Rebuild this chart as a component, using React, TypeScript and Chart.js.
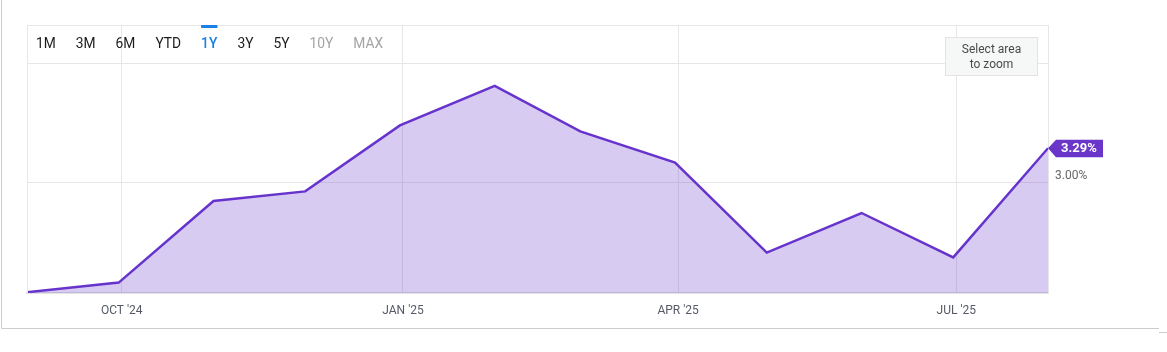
import { useEffect, useRef } from 'react';
import { Chart, registerables } from 'chart.js';

Chart.register(...registerables);

// ---- data ----
const dates = [
  '2024-08-31', '2024-09-30', '2024-10-31', '2024-11-30', '2024-12-31', '2025-01-31',
  '2025-02-28', '2025-03-31', '2025-04-30', '2025-05-31', '2025-06-30', '2025-07-31',
];
const values = [2.09, 2.17, 2.85, 2.93, 3.48, 3.81, 3.43, 3.17, 2.42, 2.75, 2.38, 3.29];
const tickDates = ['2024-10-01', '2025-01-01', '2025-04-01', '2025-07-01'];
const tickLabels = ["OCT '24", "JAN '25", "APR '25", "JUL '25"];
const yTickValues = [3, 4];
const yTickLabels = ['3.00%', ''];
const rangeButtons = ['1M', '3M', '6M', 'YTD', '1Y', '3Y', '5Y', '10Y', 'MAX'];
const activeButton = '1Y';
const disabledButtons = ['10Y', 'MAX'];
const xMinDate = '2024-08-31';
const xMaxDate = '2025-07-31';
const yMin = 2.0833;
const yMax = 4.3167;

const ORIGIN = Date.UTC(2024, 8, 1);
const toDay = (s: string) => {
  const [y, m, d] = s.split('-').map(Number);
  return Math.round((Date.UTC(y, m - 1, d) - ORIGIN) / 86400000);
};

const FONT = 'Roboto, "Noto Sans", sans-serif';

const overlayPlugin = {
  id: 'overlay',
  afterDraw(chart: any) {
    const ctx = chart.ctx as CanvasRenderingContext2D;
    const area = chart.chartArea;
    ctx.save();

    // plot frame (left + top)
    ctx.strokeStyle = '#e6e6e6';
    ctx.lineWidth = 1;
    ctx.beginPath();
    ctx.moveTo(area.left + 0.5, area.bottom);
    ctx.lineTo(area.left + 0.5, area.top + 0.5);
    ctx.lineTo(area.right, area.top + 0.5);
    ctx.stroke();

    // outer container border
    ctx.strokeStyle = '#cccccc';
    ctx.beginPath();
    ctx.moveTo(1.5, 0);
    ctx.lineTo(1.5, 328.5);
    ctx.lineTo(1159, 328.5);
    ctx.stroke();
    ctx.beginPath();
    ctx.moveTo(1159, 332.5);
    ctx.lineTo(1167, 332.5);
    ctx.stroke();

    // range selector buttons
    const condense = 0.92;
    ctx.textBaseline = 'middle';
    ctx.textAlign = 'left';
    let x = 36;
    const ty = 44.5;
    for (const b of rangeButtons) {
      const isActive = b === activeButton;
      ctx.font = (isActive ? '500 ' : '') + '15px ' + FONT;
      const w = ctx.measureText(b).width * condense;
      ctx.fillStyle = isActive ? '#1a80e6' : disabledButtons.includes(b) ? '#a3a3a3' : '#1c1c1c';
      ctx.save();
      ctx.translate(x, ty);
      ctx.scale(condense, 1);
      ctx.fillText(b, 0, 0);
      ctx.restore();
      if (isActive) {
        ctx.fillStyle = '#1a80e6';
        ctx.fillRect(x, area.top, w, 3);
      }
      x += w + 20;
    }

    // "Select area to zoom" box
    ctx.fillStyle = '#f6f7f7';
    ctx.fillRect(945, 37, 93, 39);
    ctx.strokeStyle = '#e3e3e3';
    ctx.strokeRect(945.5, 37.5, 92, 38);
    ctx.fillStyle = '#4a4a4a';
    ctx.font = '12px ' + FONT;
    ctx.textAlign = 'center';
    ctx.fillText('Select area', 991.5, 49.5);
    ctx.fillText('to zoom', 991.5, 64.5);

    // last value flag
    const meta = chart.getDatasetMeta(0);
    const last = meta.data[meta.data.length - 1];
    const lv = values[values.length - 1];
    const px = last.x;
    const py = last.y;
    ctx.fillStyle = '#6a35c9';
    ctx.beginPath();
    ctx.moveTo(px, py);
    ctx.lineTo(px + 8, py - 8.5);
    ctx.lineTo(px + 55, py - 8.5);
    ctx.lineTo(px + 55, py + 9);
    ctx.lineTo(px + 8, py + 9);
    ctx.closePath();
    ctx.fill();
    ctx.fillStyle = '#ffffff';
    ctx.font = 'bold 13px ' + FONT;
    ctx.textAlign = 'center';
    ctx.fillText(lv.toFixed(2) + '%', px + 31, py + 1);

    ctx.restore();
  },
};

export default function App() {
  const ref = useRef<HTMLCanvasElement | null>(null);
  useEffect(() => {
    if (!ref.current) return;
    const points = dates.map((d, i) => ({ x: toDay(d), y: values[i] }));
    const tickDays = tickDates.map(toDay);
    const chart = new Chart(ref.current, {
      type: 'line',
      data: {
        datasets: [
          {
            data: points,
            borderColor: '#6633cc',
            borderWidth: 2.5,
            backgroundColor: 'rgba(112, 62, 208, 0.27)',
            fill: 'start',
            pointRadius: 0,
            tension: 0,
            borderJoinStyle: 'miter',
          },
        ],
      },
      options: {
        animation: false,
        responsive: false,
        events: [],
        layout: { padding: { left: 27, top: 25, right: 0, bottom: 0 } },
        plugins: { legend: { display: false }, tooltip: { enabled: false } },
        scales: {
          x: {
            type: 'linear',
            min: toDay(xMinDate),
            max: toDay(xMaxDate),
            afterBuildTicks: (scale: any) => {
              scale.ticks = tickDays.map((v) => ({ value: v }));
            },
            afterFit: (scale: any) => {
              scale.height = 59;
            },
            grid: { color: '#e6e6e6', drawTicks: false },
            border: { display: true, color: '#e3e3e3', width: 2 },
            ticks: {
              padding: 11,
              color: '#555a66',
              font: { family: FONT, size: 12 },
              maxRotation: 0,
              autoSkip: false,
              callback: (v: any) => {
                const i = tickDays.indexOf(Number(v));
                return i >= 0 ? tickLabels[i] : '';
              },
            },
          },
          y: {
            position: 'right',
            min: yMin,
            max: yMax,
            afterBuildTicks: (scale: any) => {
              scale.ticks = yTickValues.map((v) => ({ value: v }));
            },
            afterFit: (scale: any) => {
              scale.width = 119;
            },
            grid: { color: '#e6e6e6', drawTicks: false },
            border: { display: true, color: '#e6e6e6' },
            ticks: {
              padding: 7,
              labelOffset: -7,
              color: '#666666',
              font: { family: FONT, size: 12 },
              callback: (v: any) => {
                const i = yTickValues.indexOf(Number(v));
                return i >= 0 ? yTickLabels[i] : '';
              },
            },
          },
        },
      },
      plugins: [overlayPlugin],
    } as any);
    return () => chart.destroy();
  }, []);

  return (
    <div style={{ position: 'absolute', left: 0, top: 0, width: 1167, height: 352, background: '#ffffff' }}>
      <canvas ref={ref} width={1167} height={352} style={{ display: 'block', width: 1167, height: 352 }} />
    </div>
  );
}
